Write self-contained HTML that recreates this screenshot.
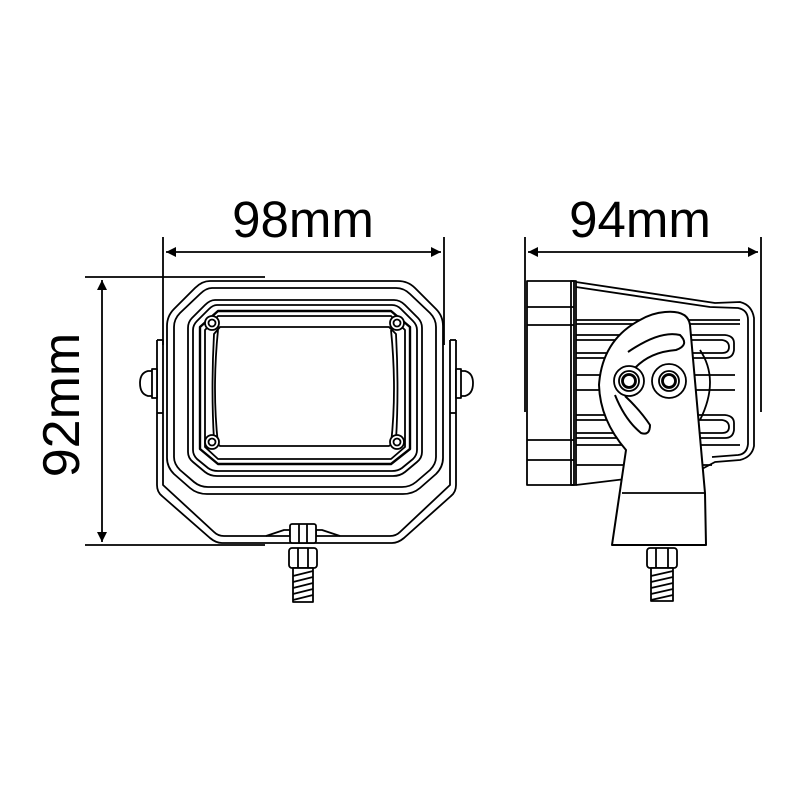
<!DOCTYPE html>
<html><head><meta charset="utf-8"><style>
html,body{margin:0;padding:0;background:#fff;}
svg{display:block;}
text{font-family:"Liberation Sans",sans-serif;fill:#000;}
</style></head><body>
<svg width="800" height="800" viewBox="0 0 800 800" xmlns="http://www.w3.org/2000/svg">
<defs>
<marker id="a" viewBox="0 0 10 10" refX="10" refY="5" markerWidth="11" markerHeight="10" markerUnits="userSpaceOnUse" orient="auto-start-reverse"><path d="M0,0 L10,5 L0,10 z" fill="#000"/></marker>
</defs>
<g stroke="#000" fill="none" stroke-width="1.8">
<line x1="163" y1="237" x2="163" y2="345"/>
<line x1="444" y1="237" x2="444" y2="345"/>
<line x1="166" y1="252" x2="441" y2="252" marker-start="url(#a)" marker-end="url(#a)"/>
<line x1="85" y1="277" x2="265" y2="277"/>
<line x1="85" y1="545" x2="265" y2="545"/>
<line x1="102" y1="280" x2="102" y2="542" marker-start="url(#a)" marker-end="url(#a)"/>
<line x1="525" y1="237" x2="525" y2="412"/>
<line x1="761" y1="237" x2="761" y2="412"/>
<line x1="528" y1="252" x2="758" y2="252" marker-start="url(#a)" marker-end="url(#a)"/>
</g>
<text x="303" y="237" font-size="51" text-anchor="middle">98mm</text>
<text x="640" y="237" font-size="51" text-anchor="middle">94mm</text>
<text transform="translate(79,405) rotate(-90)" font-size="52" text-anchor="middle">92mm</text>

<!-- FRONT VIEW -->
<g stroke="#000" fill="none" stroke-width="1.8" stroke-linejoin="round">
<path d="M157,340 L157,485 Q157,492 162,496 L210,538 Q216,543 222,543 L392,543 Q398,543 404,538 L451,496 Q456,492 456,485 L456,340"/>
<path d="M163,340 L163,485 L214,532 Q218,536 224,536 L390,536 Q396,536 400,532 L450,485 L450,340"/>
<line x1="157" y1="340" x2="163" y2="340"/><line x1="450" y1="340" x2="456" y2="340"/>
<line x1="157" y1="413" x2="163" y2="413"/><line x1="450" y1="413" x2="456" y2="413"/>
<path d="M155,371 L148,371 Q140,373 140,383 Q140,394 148,396 L155,396 Z" fill="#fff"/>
<rect x="152" y="369" width="5" height="29" fill="#fff"/>
<path d="M458,371 L465,371 Q473,373 473,383 Q473,394 465,396 L458,396 Z" fill="#fff"/>
<rect x="456" y="369" width="5" height="29" fill="#fff"/>
<path d="M210,281 L398,281 Q408,281 415,288 L436,309 Q443,316 443,326 L443,458 Q443,467 436,474 L420,488 Q413,494 403,494 L207,494 Q197,494 190,488 L174,474 Q167,467 167,458 L167,326 Q167,316 174,309 L195,288 Q202,281 210,281 Z" fill="#fff"/>
<path d="M212,288 L396,288 Q404,288 410,294 L430,313 Q436,319 436,327 L436,457 Q436,464 430,470 L416,482 Q410,487 402,487 L208,487 Q200,487 194,482 L180,470 Q174,464 174,457 L174,327 Q174,319 180,313 L200,294 Q206,288 212,288 Z"/>
<path d="M215,300 L394,300 Q400,300 405,305 L418,318 Q422,322 422,328 L422,452 Q422,458 417,462 L405,472 Q400,476 393,476 L217,476 Q210,476 205,472 L193,462 Q188,458 188,452 L188,328 Q188,322 192,318 L205,305 Q210,300 215,300 Z"/>
<path d="M217,305 L392,305 Q397,305 401,309 L413,321 Q417,325 417,330 L417,450 Q417,455 413,459 L402,468 Q398,471 392,471 L218,471 Q212,471 208,468 L197,459 Q193,455 193,450 L193,330 Q193,325 197,321 L209,309 Q213,305 217,305 Z"/>
<path d="M218,311 L391,311 L410,327 L410,449 L391,464 L218,464 L200,449 L200,327 Z" stroke-width="2.4"/>
<path d="M218,316 L391,316 L405,330 L405,447 L391,459 L218,459 L205,447 L205,330 Z"/>
<path d="M220,327 L389,327 L396,334 Q399,390 396,440 L389,446 L220,446 L214,440 Q211,390 214,334 Z"/>
<path d="M218,330 Q212,390 218,444"/><path d="M391,330 Q397,390 391,444"/>
<g fill="#fff">
<circle cx="212" cy="323" r="7"/><circle cx="212" cy="323" r="3.5"/>
<circle cx="397" cy="323" r="7"/><circle cx="397" cy="323" r="3.5"/>
<circle cx="212" cy="442" r="7"/><circle cx="212" cy="442" r="3.5"/>
<circle cx="397" cy="442" r="7"/><circle cx="397" cy="442" r="3.5"/>
</g>
<path d="M266,536 L284,530 L290,530 L290,536"/><path d="M340,536 L322,530 L316,530 L316,536"/>
<rect x="290" y="524" width="26" height="19" rx="2" fill="#fff"/>
<line x1="299" y1="524" x2="299" y2="543"/><line x1="307" y1="524" x2="307" y2="543"/>
<rect x="289" y="548" width="28" height="20" rx="3" fill="#fff"/>
<line x1="298" y1="548" x2="298" y2="568"/><line x1="308" y1="548" x2="308" y2="568"/>
<rect x="293" y="568" width="20" height="34" fill="#fff"/>
<path d="M293,576 L313,571 M293,582 L313,577 M293,588 L313,583 M293,594 L313,589 M293,600 L313,595"/>
</g>

<!-- SIDE VIEW -->
<g stroke="#000" fill="none" stroke-width="1.8" stroke-linejoin="round">
<rect x="527" y="281" width="47" height="204"/>
<line x1="527" y1="307" x2="574" y2="307"/><line x1="527" y1="325" x2="574" y2="325"/>
<line x1="527" y1="440" x2="574" y2="440"/><line x1="527" y1="460" x2="574" y2="460"/>
<rect x="571" y="281" width="5" height="204"/>
<path d="M576,282 L715,303 L740,302 Q752,305 754,318 L754,446 Q752,457 740,460 L715,462 L700,470 L576,485"/>
<path d="M576,287 L710,307 L738,308 Q748,310 748,320 L748,444 Q747,454 738,455 L712,457"/>
<path d="M576,320 L740,320"/><path d="M576,324 L740,324"/>
<path d="M576,335 L725,335 Q734,336 734,343 L734,350 Q733,358 725,358 L576,358"/>
<path d="M576,340 L722,340 Q729,341 729,347 Q729,353 722,353 L576,353"/>
<path d="M576,375 L735,375"/>
<path d="M576,390 L735,390"/>
<path d="M576,415 L725,415 Q734,416 734,423 L734,430 Q733,438 725,438 L576,438"/>
<path d="M576,420 L722,420 Q729,421 729,427 Q729,433 722,433 L576,433"/>
<path d="M576,445 L740,445"/><path d="M576,465 L712,465"/>
<path d="M700,350 Q720,380 700,420" />
<path d="M665,312 Q688,310 690,325 L705,493 L706,545 L612,545 L626,450 Q600,420 599,385 Q602,340 640,320 Q652,313 665,312 Z" fill="#fff" stroke-width="2"/>
<line x1="622" y1="493" x2="705" y2="493"/>
<path d="M628,352 Q660,330 680,335 Q690,345 676,350 Q650,352 635,368 M625,396 Q640,410 650,425 Q650,436 641,433 Q625,420 615,395" stroke-width="2"/>
<circle cx="629" cy="381" r="15" fill="#fff"/><circle cx="629" cy="381" r="10"/><circle cx="629" cy="381" r="6.5" stroke-width="2.8"/>
<circle cx="669" cy="381" r="17" fill="#fff"/><circle cx="669" cy="381" r="10"/><circle cx="669" cy="381" r="6.5" stroke-width="2.8"/>
<rect x="647" y="548" width="30" height="20" rx="3" fill="#fff"/>
<line x1="656" y1="548" x2="656" y2="568"/><line x1="668" y1="548" x2="668" y2="568"/>
<rect x="651" y="568" width="22" height="33" fill="#fff"/>
<path d="M651,576 L673,571 M651,582 L673,577 M651,588 L673,583 M651,594 L673,589 M651,600 L673,595"/>
</g>
</svg>
</body></html>
